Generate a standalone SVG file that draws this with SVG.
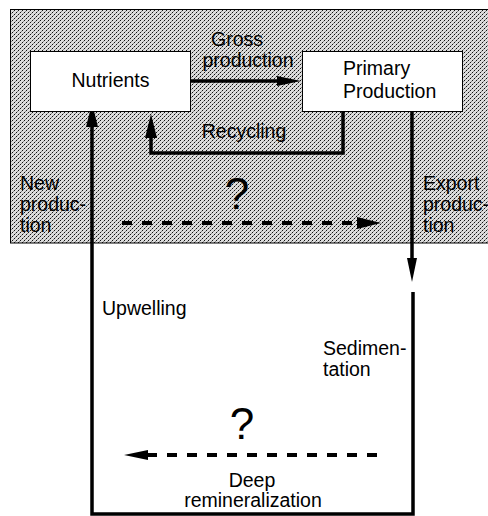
<svg xmlns="http://www.w3.org/2000/svg" width="488" height="516" viewBox="0 0 488 516">
<style>
text{font-family:"Liberation Sans",Arial,Helvetica,sans-serif;font-size:19.5px;fill:#000}
.q{font-size:44px}
.box{fill:#fff;stroke:#000;stroke-width:1}
.solid{fill:none;stroke:#000;stroke-width:3.5;stroke-linejoin:miter;stroke-linecap:butt}
.dash{fill:none;stroke:#000;stroke-width:4;stroke-dasharray:10 10}
</style>
<defs>
<pattern id="stip" patternUnits="userSpaceOnUse" width="4" height="4">
<rect width="4" height="4" fill="#dcdcdc"/>
<rect x="0" y="0" width="1" height="1" fill="#111"/>
<rect x="2" y="2" width="1" height="1" fill="#111"/>
<rect x="1" y="3" width="1" height="1" fill="#888"/>
<rect x="3" y="1" width="1" height="1" fill="#888"/>
</pattern>
<marker id="ah" markerUnits="userSpaceOnUse" viewBox="0 -6 24 12" markerWidth="24" markerHeight="12" refX="1" refY="0" orient="auto" overflow="visible">
<path d="M0,-6 L24,0 L0,6 Z" fill="#000"/>
</marker>
<marker id="ahs" markerUnits="userSpaceOnUse" viewBox="0 -5 24 10" markerWidth="24" markerHeight="10" refX="1" refY="0" orient="auto" overflow="visible">
<path d="M0,-5 L24,0 L0,5 Z" fill="#000"/>
</marker>
</defs>
<g id="surface-layer">
<rect x="10.5" y="9.5" width="490" height="233.5" fill="url(#stip)" stroke="#000" stroke-width="1"/>
</g>
<g id="connectors">
<path class="solid" d="M189,81 H278" marker-end="url(#ahs)"/>
<path class="solid" d="M343,111 V153 H151 V137" marker-end="url(#ah)"/>
<path class="solid" d="M412,111 V259" marker-end="url(#ahs)"/>
<path class="solid" d="M413,292 V514 H92 V126" marker-end="url(#ah)"/>
<path class="dash" d="M122,223 H358" marker-end="url(#ah)"/>
<path class="dash" d="M377,455 H147" marker-end="url(#ahs)"/>
</g>
<g id="nutrients">
<rect class="box" x="30.5" y="51.5" width="160" height="60"/>
<text x="110.5" y="87" text-anchor="middle">Nutrients</text>
</g>
<g id="primary-production">
<rect class="box" x="302.5" y="51.5" width="160" height="60"/>
<text x="343" y="75">Primary</text>
<text x="343" y="98">Production</text>
</g>
<g id="labels">
<text x="237" y="46" text-anchor="middle">Gross</text>
<text x="248" y="67" text-anchor="middle">production</text>
<text x="244" y="138" text-anchor="middle">Recycling</text>
<text x="20" y="190">New</text>
<text x="20" y="211">produc-</text>
<text x="20" y="232">tion</text>
<text x="423" y="190">Export</text>
<text x="423" y="211">produc-</text>
<text x="423" y="232">tion</text>
<text class="q" x="237" y="209" text-anchor="middle">?</text>
<text x="102" y="315">Upwelling</text>
<text x="323" y="355">Sedimen-</text>
<text x="323" y="376">tation</text>
<text class="q" x="242" y="439" text-anchor="middle">?</text>
<text x="252" y="487" text-anchor="middle">Deep</text>
<text x="253" y="507" text-anchor="middle">remineralization</text>
</g>
</svg>
